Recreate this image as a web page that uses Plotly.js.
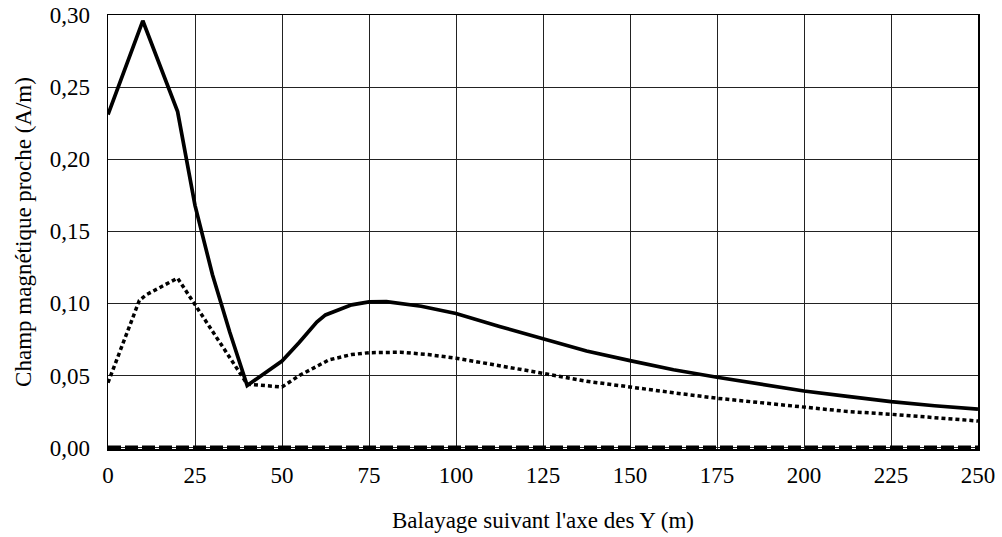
<!DOCTYPE html>
<html>
<head>
<meta charset="utf-8">
<script src="https://cdn.plot.ly/plotly-3.0.1.min.js"></script>
<style>
  html, body { margin: 0; padding: 0; background: #fff; }
  #chart { width: 1002px; height: 537px; }
</style>
</head>
<body>
<div id="chart"></div>
<script>
// Position along the Y sweep (m) and near magnetic field (A/m)
const xSolid = [0, 10, 20, 25, 30, 35, 40, 50, 55, 60, 62.5, 70, 75, 80, 90, 100, 112.5, 125, 137.5, 150, 162.5, 175, 187.5, 200, 212.5, 225, 237.5, 250];
const ySolid = [0.231, 0.296, 0.233, 0.168, 0.120, 0.080, 0.043, 0.060, 0.073, 0.087, 0.092, 0.099, 0.101, 0.1012, 0.098, 0.093, 0.084, 0.0758, 0.067, 0.0603, 0.054, 0.0488, 0.044, 0.0392, 0.0355, 0.0318, 0.029, 0.0267];

const xDotted = [0, 9, 11, 20, 40, 50, 55, 63.5, 70, 75, 84, 92, 100, 112.5, 125, 137.5, 150, 162.5, 175, 187.5, 200, 212.5, 225, 237.5, 250];
const yDotted = [0.045, 0.102, 0.106, 0.1175, 0.044, 0.042, 0.050, 0.0608, 0.0645, 0.0658, 0.0661, 0.0645, 0.062, 0.057, 0.0515, 0.046, 0.0418, 0.038, 0.0342, 0.031, 0.0276, 0.025, 0.0231, 0.0205, 0.0184];

const xZero = [0, 250];
const yZero = [0, 0];

const xTicks = [0, 25, 50, 75, 100, 125, 150, 175, 200, 225, 250];
const yTicks = [0, 0.05, 0.10, 0.15, 0.20, 0.25, 0.30];

const fontFamily = '"Liberation Serif", "Times New Roman", serif';
const txt = { family: fontFamily, size: 23, color: '#000' };

const traces = [
  {
    x: xSolid, y: ySolid, type: 'scatter', mode: 'lines',
    line: { color: '#000', width: 3.7 }, hoverinfo: 'skip'
  },
  {
    x: xDotted, y: yDotted, type: 'scatter', mode: 'lines',
    line: { color: '#000', width: 3.5, dash: '4px,3px' }, hoverinfo: 'skip'
  },
  {
    x: xZero, y: yZero, type: 'scatter', mode: 'lines',
    line: { color: '#000', width: 4, dash: '13px,4px' }, hoverinfo: 'skip'
  }
];

const layout = {
  width: 1002, height: 537,
  margin: { l: 108, r: 24, t: 15, b: 88 },
  paper_bgcolor: '#fff', plot_bgcolor: '#fff',
  showlegend: false,
  separators: ', ',
  font: txt,
  xaxis: {
    range: [0, 250], tickvals: xTicks, ticks: '', ticklabelstandoff: 5,
    showgrid: true, gridcolor: '#222', gridwidth: 1,
    zeroline: false, showline: true, mirror: true, linecolor: '#000', linewidth: 1.5,
    tickfont: txt,
    title: { text: "Balayage suivant l'axe des Y (m)", font: txt, standoff: 25 }
  },
  yaxis: {
    range: [-0.001, 0.30], tickvals: yTicks, tickformat: '.2f', ticks: '', ticklabelstandoff: 12,
    showgrid: true, gridcolor: '#222', gridwidth: 1,
    zeroline: false, showline: true, mirror: true, linecolor: '#000', linewidth: 1.5,
    tickfont: txt,
    title: { text: 'Champ magnétique proche (A/m)', font: txt, standoff: 11 }
  }
};

Plotly.newPlot('chart', traces, layout, { staticPlot: true, displayModeBar: false });
</script>
</body>
</html>
